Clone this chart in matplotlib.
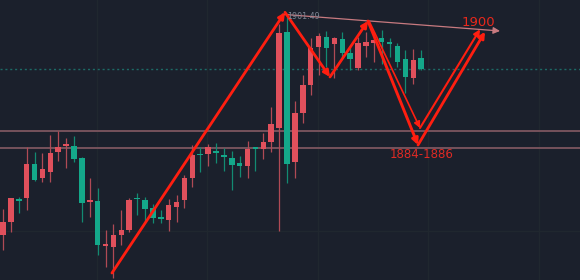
import matplotlib
matplotlib.use("Agg")
import matplotlib.pyplot as plt
import numpy as np

# ---- data ----
opens = [1873.47, 1875.07, 1877.62, 1877.93, 1882.02, 1880.34, 1881.10, 1883.47, 1884.18, 1884.19,
         1882.71, 1877.43, 1877.57, 1872.13, 1872.06, 1873.47, 1874.07, 1877.86, 1877.69, 1876.69,
         1875.53, 1875.28, 1876.88, 1877.69, 1880.30, 1883.16, 1883.19, 1883.63, 1883.07, 1882.71,
         1882.11, 1881.82, 1883.97, 1883.87, 1884.71, 1886.40, 1897.96, 1882.23, 1888.13, 1891.54,
         1896.16, 1897.36, 1896.45, 1897.08, 1895.36, 1893.63, 1896.28, 1896.57, 1897.20, 1896.62,
         1896.24, 1894.64, 1892.35, 1894.76]
highs = [1876.60, 1877.93, 1878.08, 1884.11, 1883.51, 1883.35, 1885.52, 1886.04, 1885.16, 1885.40,
         1882.90, 1880.34, 1879.13, 1874.07, 1874.80, 1876.48, 1877.93, 1878.53, 1878.08, 1877.21,
         1876.48, 1877.81, 1878.29, 1880.70, 1884.31, 1884.11, 1884.43, 1884.52, 1883.92, 1883.63,
         1882.99, 1884.80, 1884.04, 1885.80, 1888.86, 1898.90, 1899.73, 1889.61, 1892.75, 1897.20,
         1897.77, 1898.05, 1897.36, 1897.96, 1896.16, 1897.36, 1897.96, 1897.96, 1898.17, 1897.17,
         1896.57, 1895.76, 1895.84, 1895.76]
lows = [1871.66, 1873.87, 1876.08, 1876.48, 1880.00, 1879.89, 1879.85, 1882.42, 1881.58, 1882.23,
        1875.07, 1875.68, 1871.06, 1869.65, 1868.29, 1872.26, 1873.87, 1875.88, 1875.07, 1874.92,
        1874.92, 1873.95, 1875.07, 1876.69, 1879.29, 1881.10, 1881.78, 1882.18, 1881.22, 1878.89,
        1880.42, 1880.30, 1881.22, 1882.66, 1883.43, 1873.95, 1879.70, 1880.30, 1886.93, 1890.34,
        1892.75, 1893.75, 1892.35, 1894.76, 1893.35, 1893.35, 1894.95, 1894.35, 1894.07, 1894.95,
        1893.75, 1890.54, 1891.66, 1893.35]
closes = [1875.07, 1877.89, 1877.55, 1882.02, 1880.10, 1881.42, 1883.39, 1884.07, 1884.28, 1882.63,
          1877.29, 1877.53, 1872.26, 1872.23, 1873.47, 1874.07, 1877.69, 1877.76, 1876.60, 1875.48,
          1875.43, 1877.08, 1877.48, 1880.30, 1883.11, 1883.06, 1884.04, 1883.31, 1882.83, 1881.90,
          1881.82, 1883.83, 1883.87, 1884.67, 1886.84, 1897.77, 1881.99, 1888.13, 1891.54, 1895.96,
          1897.45, 1896.04, 1897.24, 1895.36, 1894.64, 1896.57, 1896.69, 1896.96, 1896.69, 1896.52,
          1894.35, 1892.54, 1894.55, 1893.47]

support_levels = [1884.0, 1886.0]
high_label = "1901.49"
target_label = "1900"
support_label = "1884-1886"

# drawn path (bar index, price)
path_up = [(13.81, 1868.89), (35.74, 1900.30)]
path_down1 = [(35.74, 1900.30), (41.44, 1892.51)]
path_up2 = [(41.44, 1892.51), (46.26, 1899.25)]
v_outer = [(46.26, 1899.25), (52.60, 1884.31), (61.09, 1897.96)]
v_inner = [(46.40, 1899.25), (52.85, 1886.36), (60.46, 1898.25)]
trend_line = [(35.40, 1900.06), (62.99, 1898.05)]

# ---- style ----
BG = "#1b202c"
UP = "#e0505c"
DOWN = "#14a88a"
UP_WICK = "#b04a55"
DOWN_WICK = "#138a72"
DRAW = "#ff1e10"

fig = plt.figure(figsize=(5.8, 2.8), dpi=100)
fig.patch.set_facecolor(BG)
ax = fig.add_axes([0, 0, 1, 1])
ax.set_facecolor(BG)
for s in ax.spines.values():
    s.set_visible(False)
ax.set_xticks([])
ax.set_yticks([])

x0 = -0.38
ax.set_xlim(x0, x0 + 580 / 7.89)
ax.set_ylim(1901.783 - 280 / 8.3, 1901.783)

# grid
for gx in [11.9, 25.9, 39.9, 53.9, 67.9]:
    ax.axvline(gx, color="#20272f", lw=1.0, zorder=0)
ax.axhline(1873.95, color="#20272f", lw=1.0, zorder=0)

idx = np.arange(len(opens))
o = np.array(opens); c = np.array(closes); h = np.array(highs); l = np.array(lows)
up = c >= o
bottoms = np.minimum(o, c)
heights = np.maximum(np.abs(c - o), 0.22)
wick_cols = [UP_WICK if u else DOWN_WICK for u in up]
body_cols = [UP if u else DOWN for u in up]
ax.vlines(idx, l, h, colors=wick_cols, lw=0.9, zorder=2)
ax.bar(idx, heights, bottom=bottoms, width=0.7, color=body_cols, lw=0, zorder=3)

# support lines
for lv in support_levels:
    ax.axhline(lv, color="#76525c", lw=1.4, zorder=1)

# last price dotted line
ax.axhline(closes[-1], color="#1d6a66", lw=1.0, ls=(0, (1.5, 2)), zorder=1)


def arrow(p0, p1, lw=1.8, color=DRAW, scale=9, style="-|>"):
    ax.annotate("", xy=p1, xytext=p0,
                arrowprops=dict(arrowstyle=style, color=color, lw=lw,
                                mutation_scale=scale, shrinkA=0, shrinkB=0),
                zorder=5)

# trend line (pink, filled head)
arrow(trend_line[0], trend_line[1], lw=0.9, color="#c87a80", scale=10)

arrow(path_up[0], path_up[1], lw=2.0)
arrow(path_down1[0], path_down1[1], lw=2.0)
arrow(path_up2[0], path_up2[1], lw=2.0)
arrow(v_outer[0], v_outer[1], lw=2.1)
arrow(v_outer[1], v_outer[2], lw=2.0)
arrow(v_inner[0], v_inner[1], lw=1.2)
arrow(v_inner[1], v_inner[2], lw=1.5)

# texts
ax.text(38.1, 1899.75, high_label, color="#7d8694", fontsize=5.8,
        ha="center", va="center", zorder=6)
ax.text(60.2, 1899.13, target_label, color="#e8281c", fontsize=9.5,
        ha="center", va="center", zorder=6)
ax.text(53.1, 1883.11, support_label, color="#e02a24", fontsize=8.5,
        ha="center", va="center", zorder=6)

fig.savefig("out.png", dpi=100, facecolor=BG)
